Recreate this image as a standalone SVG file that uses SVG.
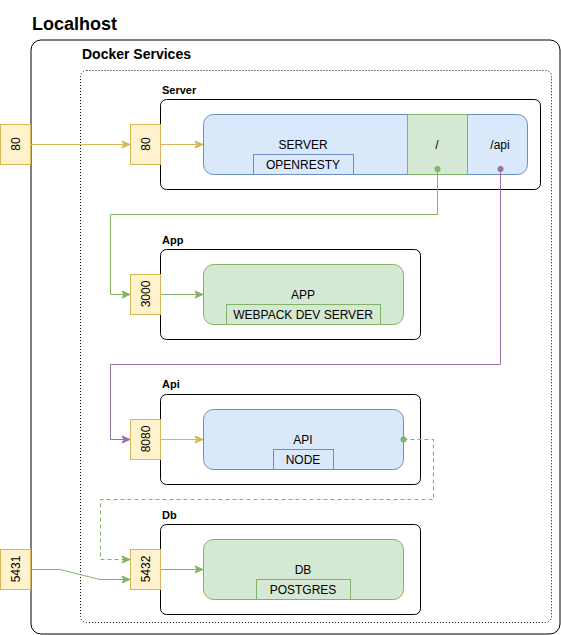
<svg xmlns="http://www.w3.org/2000/svg" width="561" height="635" viewBox="0 0 561 635">
<defs>
<style>
text{font-family:"Liberation Sans",Arial,sans-serif;fill:#000}
.t{font-size:12px;text-anchor:middle}
.b{font-weight:bold}
.port{fill:#fff2cc;stroke:#d6b656}
.blue{fill:#dae8fc;stroke:#6c8ebf}
.green{fill:#d5e8d4;stroke:#82b366}
.box{fill:#fff;stroke:#000}
.e{fill:none;stroke-width:1}
</style>
<marker id="ay" viewBox="0 0 10 10" refX="9" refY="5" markerWidth="10" markerHeight="10" markerUnits="userSpaceOnUse" orient="auto"><path d="M1,1.5 L9,5 L1,8.5 L3,5 Z" fill="#d6b656" stroke="#d6b656"/></marker>
<marker id="ag" viewBox="0 0 10 10" refX="9" refY="5" markerWidth="10" markerHeight="10" markerUnits="userSpaceOnUse" orient="auto"><path d="M1,1.5 L9,5 L1,8.5 L3,5 Z" fill="#82b366" stroke="#82b366"/></marker>
<marker id="ap" viewBox="0 0 10 10" refX="9" refY="5" markerWidth="10" markerHeight="10" markerUnits="userSpaceOnUse" orient="auto"><path d="M1,1.5 L9,5 L1,8.5 L3,5 Z" fill="#9673a6" stroke="#9673a6"/></marker>
</defs>
<rect width="561" height="635" fill="#fff"/>
<g id="localhost">
<rect x="31" y="40" width="529" height="594" rx="10" class="box"/>
<text x="32" y="30" class="b" font-size="18">Localhost</text>
</g>
<g id="docker">
<rect x="80.5" y="70.5" width="471" height="552" rx="6" fill="none" stroke="#000" stroke-dasharray="1,2"/>
<text x="82" y="59" class="b" font-size="14">Docker Services</text>
</g>
<g id="server">
<rect x="160.5" y="99.5" width="380" height="90" rx="6" class="box"/>
<text x="162" y="94" class="b" font-size="11">Server</text>
<rect x="203.5" y="114.5" width="324" height="60" rx="10" class="blue"/>
<rect x="407.5" y="114.5" width="60" height="60" class="green"/>
<text x="303" y="149" class="t">SERVER</text>
<rect x="253.5" y="154.5" width="100" height="20" class="blue"/>
<text x="303" y="169" class="t">OPENRESTY</text>
<text x="437" y="149" class="t">/</text>
<text x="500" y="149" class="t">/api</text>
</g>
<g id="app">
<rect x="160.5" y="249.5" width="260" height="90" rx="6" class="box"/>
<text x="162" y="244" class="b" font-size="11">App</text>
<rect x="203.5" y="264.5" width="200" height="60" rx="10" class="green"/>
<text x="303" y="299" class="t">APP</text>
<rect x="226.5" y="304.5" width="154" height="20" class="green"/>
<text x="303" y="319" class="t">WEBPACK DEV SERVER</text>
</g>
<g id="api">
<rect x="160.5" y="394.5" width="260" height="90" rx="6" class="box"/>
<text x="162" y="388" class="b" font-size="11">Api</text>
<rect x="203.5" y="409.5" width="200" height="60" rx="10" class="blue"/>
<text x="303" y="444" class="t">API</text>
<rect x="273.5" y="449.5" width="60" height="20" class="blue"/>
<text x="303" y="464" class="t">NODE</text>
</g>
<g id="db">
<rect x="160.5" y="524.5" width="260" height="90" rx="6" class="box"/>
<text x="162" y="519" class="b" font-size="11">Db</text>
<rect x="203.5" y="539.5" width="200" height="60" rx="10" class="green"/>
<text x="303" y="574" class="t">DB</text>
<rect x="256.5" y="579.5" width="94" height="20" class="green"/>
<text x="303" y="594" class="t">POSTGRES</text>
</g>
<g id="port80host"><rect x="0.5" y="124.5" width="30" height="40" class="port"/><text class="t" transform="translate(20,144) rotate(-90)">80</text></g>
<g id="port80"><rect x="130.5" y="124.5" width="30" height="40" class="port"/><text class="t" transform="translate(150,144) rotate(-90)">80</text></g>
<g id="port3000"><rect x="130.5" y="274.5" width="30" height="40" class="port"/><text class="t" transform="translate(150,294) rotate(-90)">3000</text></g>
<g id="port8080"><rect x="130.5" y="419.5" width="30" height="40" class="port"/><text class="t" transform="translate(150,439) rotate(-90)">8080</text></g>
<g id="port5432"><rect x="130.5" y="549.5" width="30" height="40" class="port"/><text class="t" transform="translate(150,569) rotate(-90)">5432</text></g>
<g id="port5431host"><rect x="0.5" y="549.5" width="30" height="40" class="port"/><text class="t" transform="translate(20,569) rotate(-90)">5431</text></g>
<g id="connectors">
<path d="M31,144.5 H130" class="e" stroke="#d6b656" marker-end="url(#ay)"/>
<path d="M161,144.5 H203" class="e" stroke="#d6b656" marker-end="url(#ay)"/>
<path d="M437.5,169 V214.5 H110.5 V294.5 H130" class="e" stroke="#82b366" marker-end="url(#ag)"/>
<circle cx="437.5" cy="169" r="3" fill="#82b366"/>
<path d="M161,294.5 H203" class="e" stroke="#82b366" marker-end="url(#ag)"/>
<path d="M500.5,169 V364.5 H110.5 V439.5 H130" class="e" stroke="#9673a6" marker-end="url(#ap)"/>
<circle cx="500.5" cy="169" r="3" fill="#9673a6"/>
<path d="M161,439.5 H203" class="e" stroke="#d6b656" marker-end="url(#ay)"/>
<path d="M403.5,439.5 H433.5 V499.5 H100.5 V559.5 H130" class="e" stroke="#82b366" stroke-dasharray="4,3" marker-end="url(#ag)"/>
<circle cx="403.5" cy="439.5" r="3" fill="#82b366"/>
<path d="M31,569.5 H60 L100,579.5 H130" class="e" stroke="#82b366" marker-end="url(#ag)"/>
<path d="M161,569.5 H203" class="e" stroke="#82b366" marker-end="url(#ag)"/>
</g>
</svg>
